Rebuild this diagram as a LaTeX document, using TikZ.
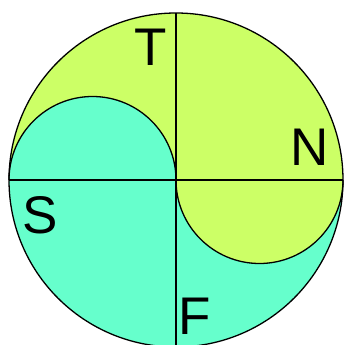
\documentclass[tikz,border=0pt]{standalone}
\usepackage{fontspec}
\setmainfont{Liberation Sans}
\definecolor{thinkcol}{HTML}{CCFF66}
\definecolor{feelcol}{HTML}{66FFCC}

\begin{document}
\begin{tikzpicture}[x=1pt,y=1pt,line width=1.3pt,
  letter/.style={font=\fontsize{53}{60}\selectfont,inner sep=0pt}]
\useasboundingbox (-176,-165) rectangle (167,180);

%% halves
\fill[thinkcol] (0,0) circle (167);
\fill[feelcol] (-167,0) arc[start angle=180,end angle=0,radius=83.5]
  arc[start angle=180,end angle=360,radius=83.5]
  arc[start angle=0,end angle=-180,radius=167] -- cycle;

%% outlines
\draw (-167,0) arc[start angle=180,end angle=0,radius=83.5]
  arc[start angle=180,end angle=360,radius=83.5];
\draw (0,167) -- (0,-167);
\draw (-167,0) -- (167,0);
\draw (0,0) circle (167);

%% letters
\node[letter] (t) at (-25,133) {T};
\node[letter] (n) at (134,33) {N};
\node[letter] (s) at (-136,-35) {S};
\node[letter] (f) at (19,-136) {F};
\end{tikzpicture}
\end{document}
